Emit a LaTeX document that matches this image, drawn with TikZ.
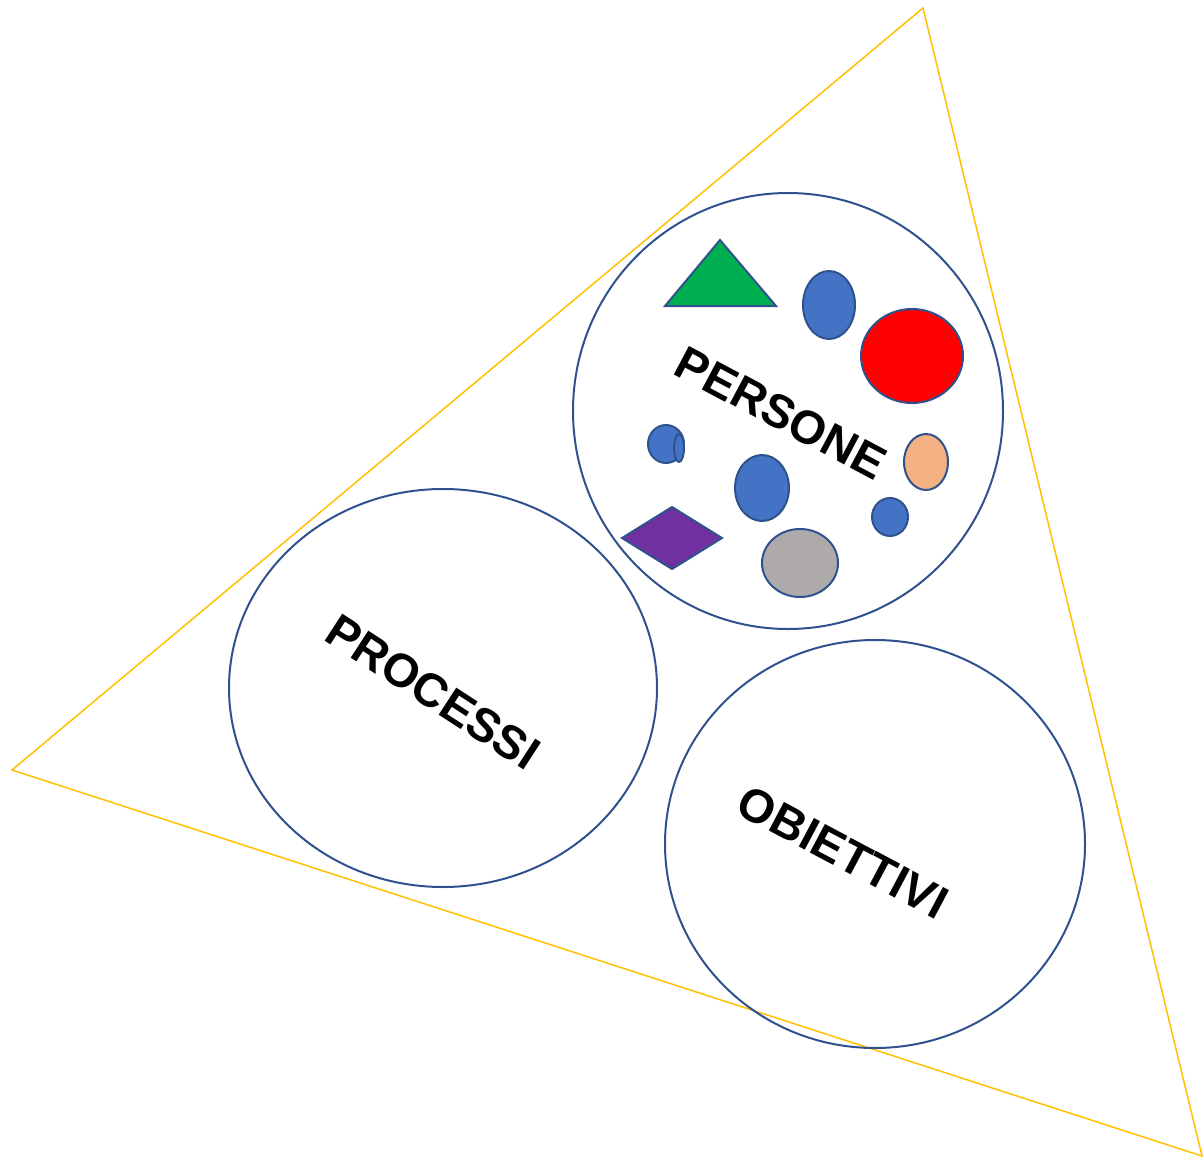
\documentclass[tikz,border=0pt]{standalone}
\usepackage{fontspec}
\setmainfont{Liberation Sans}
\begin{document}
\begin{tikzpicture}[x=1pt,y=-1pt,
  bigcirc/.style={draw=circblue,line width=2pt},
  smallshape/.style={draw=circblue,line width=2pt},
  lbl/.style={font=\fontsize{47}{52}\selectfont\bfseries,inner sep=0pt}]
\definecolor{circblue}{HTML}{2F528F}
\definecolor{fillblue}{HTML}{4472C4}
\definecolor{tribord}{HTML}{FFC000}
\definecolor{grn}{HTML}{00B050}
\definecolor{peach}{HTML}{F4B183}
\definecolor{purp}{HTML}{7030A0}
\definecolor{gry}{HTML}{AEAAAA}
\useasboundingbox (0,0) rectangle (1204,1162);
% outer triangle
\draw[tribord,line width=1.5pt] (923,8) -- (12,770) -- (1202,1156) -- cycle;
% big circles
\draw[bigcirc] (788,411) ellipse [x radius=215, y radius=218];
\draw[bigcirc] (443,688) ellipse [x radius=214, y radius=199];
\draw[bigcirc] (875,844) ellipse [x radius=210, y radius=204];
% small shapes
\draw[smallshape,fill=grn] (720,240) -- (665,306) -- (776,306) -- cycle;
\draw[smallshape,fill=fillblue] (829,305) ellipse [x radius=26, y radius=34];
\draw[smallshape,fill=red] (912,356) ellipse [x radius=51, y radius=47];
\draw[smallshape,fill=fillblue] (666,444) ellipse [x radius=18, y radius=19];
\draw[smallshape,fill=fillblue] (679,448) ellipse [x radius=5, y radius=14];
\draw[smallshape,fill=fillblue] (762,488) ellipse [x radius=27, y radius=33];
\draw[smallshape,fill=peach] (926,462) ellipse [x radius=22, y radius=28];
\draw[smallshape,fill=fillblue] (890,517) ellipse [x radius=18, y radius=19];
\draw[smallshape,fill=purp] (622,538) -- (672,507) -- (722,538) -- (672,569) -- cycle;
\draw[smallshape,fill=gry] (800,563) ellipse [x radius=38, y radius=34];
% labels
\node[lbl,rotate=-28] (persone) at (781,413) {PERSONE};
\node[lbl,rotate=-33] (processi) at (433,692) {PROCESSI};
\node[lbl,rotate=-28] (obiettivi) at (843,852) {OBIETTIVI};
\end{tikzpicture}
\end{document}
